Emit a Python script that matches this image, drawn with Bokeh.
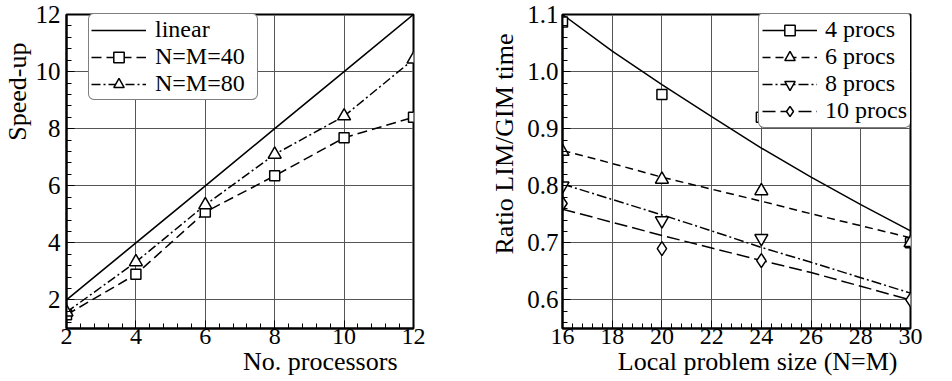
import numpy as np
from bokeh.plotting import figure
from bokeh.models import (Legend, LegendItem, Title, SingleIntervalTicker,
                          FixedTicker, Range1d, PrintfTickFormatter)
from bokeh.layouts import row
from bokeh.embed import file_html
from bokeh.resources import INLINE

FONT_Q = "'Liberation Serif'"   # quoted: used for tick labels and legends
FONT_T = "Liberation Serif"     # used for the axis titles

# ---------------- left panel data: speed-up ----------------
procs = [2, 4, 6, 8, 10, 12]
linear_speedup = [2, 4, 6, 8, 10, 12]
speedup_40 = [1.48, 2.90, 5.08, 6.35, 7.68, 8.40]
speedup_80 = [1.57, 3.33, 5.33, 7.10, 8.44, 10.43]

# ---------------- right panel data: ratio LIM/GIM ----------------
sizes = [16, 20, 24, 30]
ratio_4 = [1.087, 0.96, 0.92, 0.70]
ratio_6 = [0.86, 0.811, 0.791, 0.70]
sizes_8 = [16, 20, 24]
ratio_8 = [0.80, 0.739, 0.708]
ratio_10 = [0.769, 0.69, 0.669, 0.60]
fit_sizes = [16, 18, 20, 22, 24, 26, 28, 30]
fit_4 = [1.100, 1.036, 0.977, 0.921, 0.866, 0.815, 0.767, 0.721]
fit_6 = [0.862, 0.839, 0.815, 0.794, 0.773, 0.751, 0.730, 0.709]
fit_8 = [0.803, 0.776, 0.749, 0.721, 0.692, 0.666, 0.639, 0.612]
fit_10 = [0.759, 0.736, 0.713, 0.691, 0.669, 0.648, 0.624, 0.600]

y_ticks_right = [0.6, 0.7, 0.8, 0.9, 1.0, 1.1]
y_minor_right = [round(0.56 + 0.02 * i, 2) for i in range(27)]


def style_axis(ax, standoff, size):
    ax.axis_line_color = "black"
    ax.axis_line_width = 2
    ax.major_tick_in = 8
    ax.major_tick_out = 0
    ax.major_tick_line_color = "black"
    ax.major_tick_line_width = 1
    ax.minor_tick_in = 5
    ax.minor_tick_out = 0
    ax.minor_tick_line_color = "black"
    ax.minor_tick_line_width = 1
    ax.major_label_text_font = FONT_Q
    ax.major_label_text_font_size = size
    ax.major_label_text_color = "black"
    ax.major_label_standoff = standoff


def style_frame(p):
    p.background_fill_color = "white"
    p.border_fill_color = "white"
    p.outline_line_color = "black"
    p.outline_line_width = 2
    p.outline_line_alpha = 1.0
    p.xgrid.grid_line_color = "#555555"
    p.ygrid.grid_line_color = "#555555"
    p.xgrid.grid_line_width = 1
    p.ygrid.grid_line_width = 1


def make_legend(items, loc, glyph_width, standoff, padding, label_width):
    leg = Legend(items=items, location=loc)
    leg.margin = 0
    leg.padding = padding
    leg.spacing = 0
    leg.glyph_width = glyph_width
    leg.glyph_height = 26
    leg.label_standoff = standoff
    leg.label_width = label_width
    leg.label_height = 16
    leg.label_text_font = FONT_Q
    leg.label_text_font_size = "24px"
    leg.label_text_color = "black"
    leg.border_line_color = "black"
    leg.border_line_width = 1.5
    leg.background_fill_color = "white"
    leg.background_fill_alpha = 1.0
    try:
        leg.border_radius = 6
    except Exception:
        pass
    return leg


def axis_title(p, text, place, offset, standoff):
    t = Title(text=text, align="right", offset=offset, standoff=standoff,
              text_font=FONT_T, text_font_size="26px", text_font_style="normal",
              text_color="black")
    p.add_layout(t, place)
    return t


# ======================= LEFT FIGURE =======================
p1 = figure(width=480, height=380, x_range=Range1d(2, 12), y_range=Range1d(1, 12),
            output_backend="svg", toolbar_location=None,
            min_border_left=66, min_border_right=67, min_border_top=14,
            min_border_bottom=52)
p1.xaxis.ticker = SingleIntervalTicker(interval=2, num_minor_ticks=5)
p1.yaxis.ticker = SingleIntervalTicker(interval=2, num_minor_ticks=5)
style_frame(p1)
style_axis(p1.xaxis[0], 0, "24px")
style_axis(p1.yaxis[0], 6, "25px")

r_lin = p1.line(procs, linear_speedup, line_color="black", line_width=1.6)
r40_l = p1.line(procs, speedup_40, line_color="black", line_width=1.5,
                line_dash="10 5")
r80_l = p1.line(procs, speedup_80, line_color="black", line_width=1.5,
                line_dash="9 3 2 3")
r40_s = p1.scatter(procs, speedup_40, marker="square", size=10,
                   fill_color="white", line_color="black", line_width=1.5)
r80_s = p1.scatter(procs, speedup_80, marker="triangle", size=13,
                   fill_color="white", line_color="black", line_width=1.5)

leg1 = make_legend([
    LegendItem(label="linear", renderers=[r_lin]),
    LegendItem(label="N=M=40", renderers=[r40_l, r40_s]),
    LegendItem(label="N=M=80", renderers=[r80_l, r80_s]),
], loc=(22, 228), glyph_width=55, standoff=9, padding=2, label_width=100)
p1.add_layout(leg1)

axis_title(p1, "Speed-up", "left", 28, 1)
axis_title(p1, "No. processors", "below", 16, -4)

# ======================= RIGHT FIGURE =======================
p2 = figure(width=472, height=380, x_range=Range1d(16, 30),
            y_range=Range1d(0.55, 1.1),
            output_backend="svg", toolbar_location=None,
            min_border_left=82, min_border_right=42, min_border_top=14,
            min_border_bottom=52)
p2.xaxis.ticker = SingleIntervalTicker(interval=2, num_minor_ticks=5)
p2.yaxis.ticker = FixedTicker(ticks=y_ticks_right, minor_ticks=y_minor_right)
p2.yaxis.formatter = PrintfTickFormatter(format="%.1f")
style_frame(p2)
style_axis(p2.xaxis[0], 0, "24px")
style_axis(p2.yaxis[0], 4, "25px")

f4 = p2.line(fit_sizes, fit_4, line_color="black", line_width=1.5)
f6 = p2.line(fit_sizes, fit_6, line_color="black", line_width=1.5,
             line_dash="8 5")
f8 = p2.line(fit_sizes, fit_8, line_color="black", line_width=1.5,
             line_dash="10 3 2 3")
f10 = p2.line(fit_sizes, fit_10, line_color="black", line_width=1.5,
              line_dash="13 5")
s4 = p2.scatter(sizes, ratio_4, marker="square", size=10, fill_color="white",
                line_color="black", line_width=1.5)
s6 = p2.scatter(sizes, ratio_6, marker="triangle", size=13, fill_color="white",
                line_color="black", line_width=1.5)
s8 = p2.scatter(sizes_8, ratio_8, marker="inverted_triangle", size=13,
                fill_color="white", line_color="black", line_width=1.5)
s10 = p2.scatter(sizes, ratio_10, marker="diamond", size=14,
                 fill_color="white", line_color="black", line_width=1.5)

leg2 = make_legend([
    LegendItem(label="4 procs", renderers=[f4, s4]),
    LegendItem(label="6 procs", renderers=[f6, s6]),
    LegendItem(label="8 procs", renderers=[f8, s8]),
    LegendItem(label="10 procs", renderers=[f10, s10]),
], loc=(196, 200), glyph_width=55, standoff=8, padding=3, label_width=82)
p2.add_layout(leg2)

axis_title(p2, "Ratio LIM/GIM time", "left", 19, 11)
axis_title(p2, "Local problem size (N=M)", "below", 13, -4)

layout = row(p1, p2)
open("out.html", "w").write(file_html(layout, INLINE))
